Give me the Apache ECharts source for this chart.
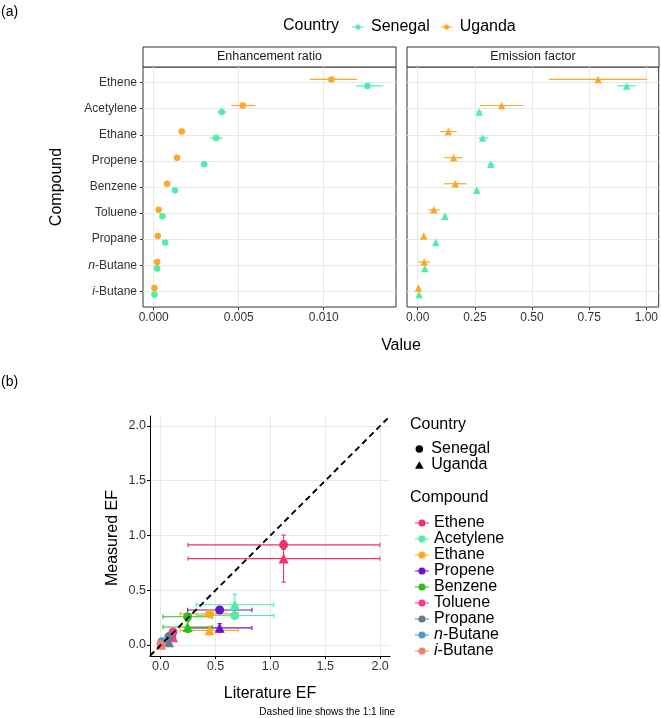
<!DOCTYPE html>
<html><head><meta charset="utf-8">
<script src="https://cdn.jsdelivr.net/npm/echarts@6/dist/echarts.min.js"></script>
<style>html,body{margin:0;padding:0;background:#fff}#c{width:661px;height:718px}</style>
</head><body><div id="c"></div>
<script>
// ---------------- data ----------------
const compounds = ['Ethene','Acetylene','Ethane','Propene','Benzene','Toluene','Propane','n-Butane','i-Butane'];
const countries = ['Senegal','Uganda'];

// (a) Enhancement ratio
const erSenegal   = [0.01257,0.00400,0.00367,0.00296,0.00125,0.00051,0.00067,0.00020,0.00004];
const erSenegalLo = [0.01190,0.00376,0.00333,0.00275,0.00118,0.00047,0.00062,0.00018,0.00003];
const erSenegalHi = [0.01350,0.00425,0.00402,0.00320,0.00132,0.00055,0.00072,0.00022,0.00005];
const erUganda    = [0.01045,0.00524,0.00165,0.00137,0.00078,0.00029,0.00024,0.00020,0.00004];
const erUgandaLo  = [0.00918,0.00457,0.00147,0.00128,0.00072,0.00026,0.00021,0.00018,0.00003];
const erUgandaHi  = [0.01196,0.00598,0.00186,0.00146,0.00085,0.00032,0.00027,0.00022,0.00005];

// (a) Emission factor (also measured EF in (b))
const efSenegal   = [0.914,0.269,0.284,0.320,0.258,0.119,0.079,0.031,0.006];
const efSenegalLo = [0.873,0.258,0.265,0.308,0.248,0.112,0.074,0.027,0.004];
const efSenegalHi = [0.953,0.280,0.306,0.334,0.270,0.126,0.085,0.036,0.008];
const efUganda    = [0.789,0.367,0.134,0.157,0.164,0.070,0.026,0.028,0.003];
const efUgandaLo  = [0.574,0.272,0.098,0.116,0.115,0.047,0.020,0.003,0.001];
const efUgandaHi  = [1.004,0.463,0.170,0.195,0.214,0.095,0.033,0.054,0.005];

// (b) Literature EF
const litEF   = [1.120,0.675,0.445,0.537,0.245,0.112,0.075,0.010,0.003];
const litEFLo = [0.248,0.325,0.178,0.245,0.020,0.090,0.060,0.002,0.000];
const litEFHi = [1.997,1.030,0.706,0.831,0.470,0.135,0.090,0.020,0.008];

// tick labels
const erTicks = [0, 0.005, 0.010];
const efTicks = [0, 0.25, 0.50, 0.75, 1.00];
const bTicks  = [0, 0.5, 1.0, 1.5, 2.0];

// ---------------- styling ----------------
const FONT = '"Liberation Sans", Arial, Helvetica, sans-serif';
const SEN = '#4CEFA4', UGA = '#FFA726';
const compoundColors = ['#F2306A','#4BF0A5','#FFA81F','#6E12D2','#2EBF1C','#FA3B8C','#687C8C','#4E95DA','#F47C70'];
const GRIDC = '#E5E9EC', BORDER = '#333333', TXT = '#333333';
const DODGE = 0.125;
const GA_L = {left:143, top:67, width:253, height:240};
const GA_R = {left:407, top:67, width:252, height:240};
const GB   = {left:150, top:416, width:240, height:240};
const ER_RANGE = [-0.00063, 0.01425];
const EF_RANGE = [-0.047, 1.054];
const B_RANGE  = [-0.098, 2.09];
const B_YRANGE = [-0.10, 2.09];

function fmtName(n){
  if (n.startsWith('n-')) return '{i|n}-' + n.slice(2);
  if (n.startsWith('i-')) return '{i|i}-' + n.slice(2);
  return n;
}
const catIdx = compounds.map((_, i) => i);

const ICON_A = 'path://M0,2.3L12,2.3L12,3.3L0,3.3Z M6,0.2A2.6,2.6 0 1 1 5.99,0.2Z';
const ICON_B = 'path://M0,3L14,3L14,4.2L0,4.2Z M7,0A3.6,3.6 0 1 1 6.99,0Z';
const ICON_TRI = 'path://M0,8L4.6,0L9.2,8Z';

function hErr(params, api){
  const y = api.value(2);
  const p1 = api.coord([api.value(0), y]);
  const p2 = api.coord([api.value(1), y]);
  return {type:'line', shape:{x1:p1[0], y1:p1[1], x2:p2[0], y2:p2[1]},
          style:{stroke: api.visual('color'), lineWidth: 1.2}};
}
function xyErr(params, api){
  const x = api.value(0), y = api.value(1);
  const a = api.coord([api.value(2), y]), b = api.coord([api.value(3), y]);
  const c = api.coord([x, api.value(4)]), d = api.coord([x, api.value(5)]);
  const cap = 2.2;
  const st = {stroke: api.visual('color'), lineWidth: 1.1};
  return {type:'group', children:[
    {type:'line', shape:{x1:a[0], y1:a[1], x2:b[0], y2:b[1]}, style:st},
    {type:'line', shape:{x1:a[0], y1:a[1]-cap, x2:a[0], y2:a[1]+cap}, style:st},
    {type:'line', shape:{x1:b[0], y1:b[1]-cap, x2:b[0], y2:b[1]+cap}, style:st},
    {type:'line', shape:{x1:c[0], y1:c[1], x2:d[0], y2:d[1]}, style:st},
    {type:'line', shape:{x1:c[0]-cap, y1:c[1], x2:c[0]+cap, y2:c[1]}, style:st},
    {type:'line', shape:{x1:d[0]-cap, y1:d[1], x2:d[0]+cap, y2:d[1]}, style:st}
  ]};
}

const aData = {
  Senegal: {er:[erSenegal, erSenegalLo, erSenegalHi], ef:[efSenegal, efSenegalLo, efSenegalHi], color:SEN, off: DODGE},
  Uganda:  {er:[erUganda, erUgandaLo, erUgandaHi],   ef:[efUganda, efUgandaLo, efUgandaHi],   color:UGA, off:-DODGE}
};

const series = [];
// panel (a)
countries.forEach(cn => {
  const d = aData[cn];
  [['er', 0, 'circle', 6.5], ['ef', 1, 'triangle', 7.5]].forEach(([key, ax, sym, sz]) => {
    const [v, lo, hi] = d[key];
    series.push({
      name: cn, type:'custom', xAxisIndex:ax, yAxisIndex:ax, renderItem:hErr,
      itemStyle:{color:d.color}, encode:{x:[0,1], y:2}, z:2, silent:true,
      data: catIdx.map(i => [lo[i], hi[i], i + d.off])
    });
    series.push({
      name: cn, type:'scatter', xAxisIndex:ax, yAxisIndex:ax, symbol:sym, symbolSize:sz,
      itemStyle:{color:d.color, opacity:1}, z:3, silent:true,
      data: catIdx.map(i => [v[i], i + d.off])
    });
  });
});
// panel (b)
compounds.forEach((name, i) => {
  series.push({
    name, type:'custom', xAxisIndex:2, yAxisIndex:2, renderItem:xyErr, z:2, silent:true,
    itemStyle:{color:compoundColors[i]}, encode:{x:[0,2,3], y:[1,4,5]},
    data: [
      [litEF[i], efSenegal[i], litEFLo[i], litEFHi[i], efSenegalLo[i], efSenegalHi[i]],
      [litEF[i], efUganda[i],  litEFLo[i], litEFHi[i], efUgandaLo[i],  efUgandaHi[i]]
    ]
  });
});
compounds.forEach((name, i) => {
  series.push({
    name, type:'scatter', xAxisIndex:2, yAxisIndex:2, z:3, silent:true,
    itemStyle:{color:compoundColors[i], opacity:1},
    data: [
      {value:[litEF[i], efSenegal[i]], symbol:'circle', symbolSize:9},
      {value:[litEF[i], efUganda[i]],  symbol:'triangle', symbolSize:10}
    ]
  });
});
const oneToOne = [B_RANGE[0], B_RANGE[1]];
series.push({
  name:'1:1', type:'line', xAxisIndex:2, yAxisIndex:2, z:5, silent:true, symbol:'none',
  lineStyle:{color:'#000', width:1.9, type:[6,4]}, clip:true,
  data: oneToOne.map(v => [v, v])
});

function catYAxis(idx, showLabels){
  return {
    type:'value', gridIndex:idx, inverse:true, min:-0.6, max:compounds.length - 0.4,
    axisLine:{show:false, onZero:false},
    axisTick:{show:showLabels, length:3, lineStyle:{color:BORDER}, customValues:catIdx},
    axisLabel:{show:showLabels, customValues:catIdx, margin:6, fontSize:12, color:TXT, fontFamily:FONT,
      formatter: v => fmtName(compounds[Math.round(v)]), rich:{i:{fontStyle:'italic', fontSize:12, color:TXT, fontFamily:FONT}}},
    splitLine:{show:true, lineStyle:{color:GRIDC, width:1}}
  };
}
function valXAxis(idx, range, ticks, dec){
  return {
    type:'value', gridIndex:idx, min:range[0], max:range[1], position:'bottom',
    axisLine:{show:false, onZero:false},
    axisTick:{show:true, length:3, lineStyle:{color:BORDER}, customValues:ticks},
    axisLabel:{customValues:ticks, margin:5, fontSize:12, color:TXT, fontFamily:FONT, formatter: v => v.toFixed(dec)},
    splitLine:{show:true, lineStyle:{color:GRIDC, width:1}}
  };
}

const titleText = (text, x, y, size, extra) => Object.assign({
  type:'text', x, y, silent:true,
  style:{text, fontSize:size, fontFamily:FONT, fill:'#000', align:'left', verticalAlign:'middle'}
}, extra || {});
const centered = (text, size, fill) => ({style:{text, fontSize:size, fontFamily:FONT, fill:fill || '#000', align:'center', verticalAlign:'middle'}});

const option = {
  animation:false,
  backgroundColor:'#fff',
  textStyle:{fontFamily:FONT},
  grid:[
    Object.assign({show:true, borderColor:BORDER, borderWidth:1, backgroundColor:'#fff'}, GA_L),
    Object.assign({show:true, borderColor:BORDER, borderWidth:1, backgroundColor:'#fff'}, GA_R),
    Object.assign({show:false}, GB)
  ],
  xAxis:[
    valXAxis(0, ER_RANGE, erTicks, 3),
    valXAxis(1, EF_RANGE, efTicks, 2),
    {
      type:'value', gridIndex:2, min:B_RANGE[0], max:B_RANGE[1], position:'bottom',
      axisLine:{show:true, onZero:false, lineStyle:{color:'#000', width:1}},
      axisTick:{show:true, length:3, lineStyle:{color:'#000'}, customValues:bTicks},
      axisLabel:{customValues:bTicks, margin:4, fontSize:12.5, color:TXT, fontFamily:FONT, formatter: v => v.toFixed(1)},
      splitLine:{show:true, lineStyle:{color:GRIDC}}
    }
  ],
  yAxis:[
    catYAxis(0, true),
    catYAxis(1, false),
    {
      type:'value', gridIndex:2, min:B_YRANGE[0], max:B_YRANGE[1], position:'left',
      axisLine:{show:true, onZero:false, lineStyle:{color:'#000', width:1}},
      axisTick:{show:true, length:3, lineStyle:{color:'#000'}, customValues:bTicks},
      axisLabel:{customValues:bTicks, margin:4, fontSize:12.5, color:TXT, fontFamily:FONT, formatter: v => v.toFixed(1)},
      splitLine:{show:true, lineStyle:{color:GRIDC}}
    }
  ],
  legend:[
    {
      orient:'horizontal', left:347, top:14, itemWidth:12, itemHeight:5.2, itemGap:11, selectedMode:false,
      textStyle:{fontSize:16, color:'#000', fontFamily:FONT, padding:[0,0,0,2]},
      data: countries.map(c => ({name:c, icon:ICON_A, itemStyle:{color:aData[c].color}}))
    },
    {
      orient:'vertical', left:410, top:436, itemWidth:14, itemHeight:7.5, itemGap:0, selectedMode:false,
      textStyle:{fontSize:16, color:'#000', fontFamily:FONT, lineHeight:15.5},
      data:[
        {name:'Senegal', icon:'circle', itemStyle:{color:'#000'}},
        {name:'Uganda', icon:ICON_TRI, itemStyle:{color:'#000'}}
      ]
    },
    {
      orient:'vertical', left:410, top:510, itemWidth:14, itemHeight:7.2, itemGap:0, selectedMode:false,
      textStyle:{fontSize:16, color:'#000', fontFamily:FONT, lineHeight:15.6,
        rich:{i:{fontStyle:'italic', fontSize:16, fontFamily:FONT, color:'#000', lineHeight:15.6}}},
      formatter: n => fmtName(n),
      data: compounds.map((n, i) => ({name:n, icon:ICON_B, itemStyle:{color:compoundColors[i]}}))
    }
  ],
  graphic:[
    {type:'rect', silent:true, shape:{x:GA_L.left, y:GA_L.top-20, width:GA_L.width, height:20}, style:{fill:'#fff', stroke:BORDER, lineWidth:1}},
    {type:'rect', silent:true, shape:{x:GA_R.left, y:GA_R.top-20, width:GA_R.width, height:20}, style:{fill:'#fff', stroke:BORDER, lineWidth:1}},
    titleText('', GA_L.left + GA_L.width/2, GA_L.top-10, 12.5, centered('Enhancement ratio', 12.5, '#1A1A1A')),
    titleText('', GA_R.left + GA_R.width/2, GA_R.top-10, 12.5, centered('Emission factor', 12.5, '#1A1A1A')),
    titleText('(a)', 1, 12, 14),
    titleText('(b)', 1, 382, 14),
    titleText('Country', 283, 26, 16),
    titleText('', 401, 346, 16, centered('Value', 16)),
    titleText('', 57, 187, 16, Object.assign({rotation:Math.PI/2}, centered('Compound', 16))),
    titleText('', 113, 538, 16, Object.assign({rotation:Math.PI/2}, centered('Measured EF', 16))),
    titleText('', 270, 694, 16, centered('Literature EF', 16)),
    titleText('Country', 410, 425, 16),
    titleText('Compound', 410, 498, 16),
    titleText('', 395, 712, 10, {style:{text:'Dashed line shows the 1:1 line', fontSize:10, fontFamily:FONT, fill:'#000', align:'right', verticalAlign:'middle'}})
  ],
  series
};
const chart = echarts.init(document.getElementById('c'));
chart.setOption(option);
</script>
</body></html>
